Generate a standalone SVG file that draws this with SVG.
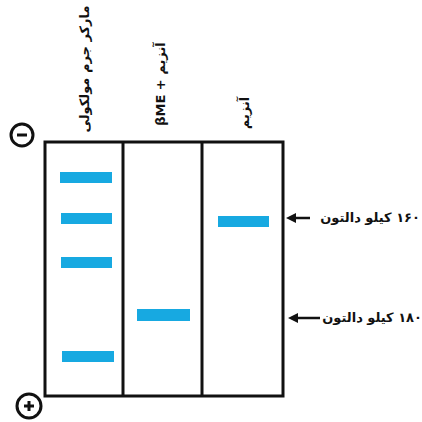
<svg xmlns="http://www.w3.org/2000/svg" width="422" height="422" viewBox="0 0 422 422">
<style>
.lbl{font-family:"DejaVu Sans",sans-serif;font-weight:bold;font-size:13px;fill:#111}
.band{fill:#17a9e1}
.frame{fill:none;stroke:#111;stroke-width:3}
.pole{fill:#fff;stroke:#111;stroke-width:3}
.arr{stroke:#111;stroke-width:2.5;fill:none}
</style>
<defs>
<marker id="ah" viewBox="0 0 10 10" refX="2" refY="5" markerWidth="4" markerHeight="4" orient="auto-start-reverse">
<path d="M0,0 L10,5 L0,10 z" fill="#111"/>
</marker>
</defs>
<rect width="422" height="422" fill="#fff"/>
<g id="gel">
<rect class="frame" x="45" y="142" width="238" height="254"/>
<line class="frame" x1="123" y1="142" x2="123" y2="396"/>
<line class="frame" x1="202" y1="142" x2="202" y2="396"/>
</g>
<g id="lane1">
<text class="lbl" direction="rtl" text-anchor="middle" transform="translate(89,69) rotate(-90)">مارکر جرم مولکولی</text>
<rect class="band" x="60" y="172" width="52" height="11"/>
<rect class="band" x="61" y="213" width="51" height="11"/>
<rect class="band" x="61" y="257" width="51" height="11"/>
<rect class="band" x="62" y="351" width="52" height="11"/>
</g>
<g id="lane2">
<text class="lbl" direction="rtl" text-anchor="middle" transform="translate(165,84) rotate(-90)">آنزیم + βME</text>
<rect class="band" x="137" y="309" width="53" height="12"/>
</g>
<g id="lane3">
<text class="lbl" direction="rtl" text-anchor="middle" transform="translate(249,113) rotate(-90)">آنزیم</text>
<rect class="band" x="218" y="216" width="51" height="11"/>
</g>
<g id="minus">
<circle class="pole" cx="22" cy="135" r="11"/>
<line x1="17" y1="135" x2="27" y2="135" stroke="#111" stroke-width="3"/>
</g>
<g id="plus">
<circle class="pole" cx="29" cy="406" r="12"/>
<line x1="24" y1="406" x2="34" y2="406" stroke="#111" stroke-width="3"/>
<line x1="29" y1="401" x2="29" y2="411" stroke="#111" stroke-width="3"/>
</g>
<g id="connectors">
<line class="arr" x1="310" y1="218" x2="294" y2="218" marker-end="url(#ah)"/>
<line class="arr" x1="320" y1="318" x2="296" y2="318" marker-end="url(#ah)"/>
</g>
<g id="label160">
<text class="lbl" x="420" y="222" direction="rtl" text-anchor="start">۱۶۰ کیلو دالتون</text>
</g>
<g id="label180">
<text class="lbl" x="422" y="322" direction="rtl" text-anchor="start">۱۸۰ کیلو دالتون</text>
</g>
</svg>
